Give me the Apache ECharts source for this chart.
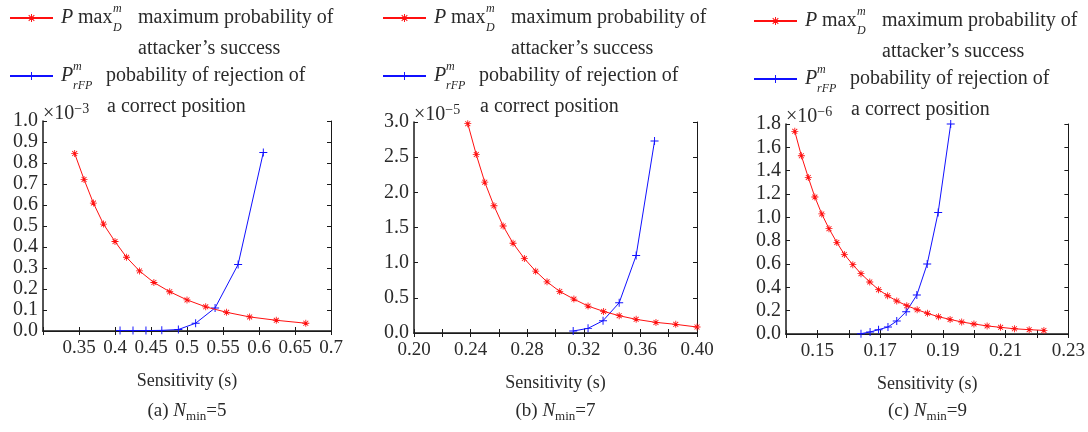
<!DOCTYPE html>
<html>
<head>
<meta charset="utf-8">
<script src="https://cdn.jsdelivr.net/npm/echarts@6/dist/echarts.min.js"></script>
<style>
  html, body { margin: 0; padding: 0; background: #fff; }
  #chart { width: 1088px; height: 432px; }
</style>
</head>
<body>
<div id="chart"></div>
<script>
// (a) Nmin=5, y in units of 1e-3
const aRedX = [0.344, 0.357, 0.370, 0.384, 0.400, 0.416, 0.434, 0.454, 0.476, 0.500, 0.526, 0.555, 0.587, 0.624, 0.665];
const aRedY = [0.845, 0.722, 0.609, 0.509, 0.426, 0.351, 0.286, 0.231, 0.187, 0.148, 0.115, 0.089, 0.067, 0.051, 0.037];
const aBlueX = [0.407, 0.425, 0.443, 0.465, 0.488, 0.512, 0.539, 0.571, 0.606];
const aBlueY = [0.002, 0.002, 0.002, 0.003, 0.007, 0.037, 0.110, 0.317, 0.850];

// (b) Nmin=7, y in units of 1e-5
const bRedX = [0.238, 0.244, 0.250, 0.2565, 0.263, 0.270, 0.278, 0.286, 0.294, 0.303, 0.313, 0.323, 0.334, 0.345, 0.357, 0.371, 0.385, 0.400];
const bRedY = [2.976, 2.537, 2.145, 1.809, 1.521, 1.276, 1.058, 0.879, 0.728, 0.591, 0.482, 0.383, 0.307, 0.246, 0.194, 0.151, 0.123, 0.085];
const bBlueX = [0.3125, 0.323, 0.3336, 0.345, 0.357, 0.370];
const bBlueY = [0.028, 0.066, 0.175, 0.430, 1.101, 2.731];

// (c) Nmin=9, y in units of 1e-6
const cRedX = [0.1428, 0.1449, 0.1471, 0.1492, 0.1514, 0.1537, 0.1562, 0.1586, 0.1613, 0.1639, 0.1667, 0.1695, 0.1724,
    0.1753, 0.1785, 0.1818, 0.1851, 0.1886, 0.1923, 0.1960, 0.1999, 0.2041, 0.2084, 0.2128, 0.2175, 0.2222];
const cRedY = [1.737, 1.528, 1.342, 1.174, 1.029, 0.903, 0.785, 0.682, 0.594, 0.517, 0.446, 0.380, 0.328,
    0.283, 0.243, 0.208, 0.177, 0.148, 0.125, 0.103, 0.086, 0.069, 0.057, 0.045, 0.037, 0.031];
const cBlueX = [0.1639, 0.1668, 0.1695, 0.1725, 0.1753, 0.1783, 0.1817, 0.1850, 0.1885, 0.1925];
const cBlueY = [0.003, 0.017, 0.037, 0.060, 0.111, 0.191, 0.334, 0.600, 1.042, 1.800];

const xMin = [0.30, 0.20, 0.14];
const xMax = [0.70, 0.40, 0.23];
const xStep = [0.05, 0.02, 0.01];
const yMax = [1.0, 3.0, 1.8];
const yStep = [0.1, 0.5, 0.2];
const yExp = ['−3', '−5', '−6'];
const captionTags = ['(a)', '(b)', '(c)'];
const captionN = ['5', '7', '9'];

const nameRed = 'Pmax';
const nameBlue = 'PrFP';

const serif = "'Liberation Serif', 'Times New Roman', serif";
const colorRed = '#ff1010';
const colorBlue = '#1010ff';
const colorAxis = '#1a1a1a';
const colorText = '#2a2a2a';

const plusPath = 'path://M4.4,0H5.6V4.4H10V5.6H5.6V10H4.4V5.6H0V4.4H4.4Z';
const starPath = plusPath + 'M1.924,1.076L8.924,8.076L8.076,8.924L1.076,1.924Z'
    + 'M1.076,8.076L8.076,1.076L8.924,1.924L1.924,8.924Z';

// plot boxes in pixels
const grids = [
    {left: 43, top: 121, width: 288, height: 210},
    {left: 414, top: 122, width: 283, height: 211},
    {left: 786, top: 124, width: 283, height: 210}
];
const legendPos = [[9, -28.5], [382, -28.5], [753, -25.5]];

function pairs(xs, ys) {
    return xs.map(function (x, i) { return [x, ys[i]]; });
}

function xLabel(i, v) {
    const h = Math.round(v * 100);
    if (i === 0) return Math.abs(v - 0.3) < 1e-6 ? '' : String(+v.toFixed(2));
    if (i === 1) return h % 4 === 0 ? v.toFixed(2) : '';
    return h % 2 === 1 ? v.toFixed(2) : '';
}

const legendRich = {
    it: {fontFamily: serif, fontSize: 20, fontStyle: 'italic', width: 12, lineHeight: 31, color: colorText},
    n2: {fontFamily: serif, fontSize: 20, width: 40, lineHeight: 31, color: colorText},
    n: {fontFamily: serif, fontSize: 20, lineHeight: 31, color: colorText},
    sup: {fontFamily: serif, fontSize: 12, fontStyle: 'italic', width: 0, lineHeight: 17, verticalAlign: 'top', color: colorText},
    subD: {fontFamily: serif, fontSize: 12, fontStyle: 'italic', width: 25, lineHeight: 17, verticalAlign: 'bottom', color: colorText},
    subR: {fontFamily: serif, fontSize: 12, fontStyle: 'italic', width: 33, lineHeight: 17, verticalAlign: 'bottom', color: colorText},
    ind1: {fontSize: 20, width: 77, lineHeight: 31},
    ind2: {fontSize: 20, width: 46, lineHeight: 31}
};

function legendText(name) {
    if (name === nameRed) {
        return '{it|P}{n2| max}{sup|m}{subD|D}{n|maximum probability of}\n{ind1| }{n|attacker’s success}';
    }
    return '{it|P}{sup|m}{subR|rFP}{n|pobability of rejection of}\n{ind2| }{n|a correct position}';
}

const xAxes = [];
const yAxes = [];
const series = [];
const legends = [];
const graphics = [];

for (let i = 0; i < 3; i++) {
    const g = grids[i];
    const cx = g.left + g.width / 2;

    xAxes.push({
        type: 'value', gridIndex: i, position: 'bottom',
        min: xMin[i], max: xMax[i], interval: xStep[i],
        name: 'Sensitivity (s)', nameLocation: 'middle', nameGap: 41,
        nameTextStyle: {fontFamily: serif, fontSize: 18, color: colorText},
        axisLine: {lineStyle: {color: colorAxis, width: 1.5}},
        axisTick: {inside: true, length: 4, lineStyle: {color: colorAxis}},
        axisLabel: {
            margin: 8, fontFamily: serif, fontSize: 19, color: colorText,
            formatter: (function (k) { return function (v) { return xLabel(k, v); }; })(i)
        },
        splitLine: {show: false}
    });
    yAxes.push({
        type: 'value', gridIndex: i, position: 'left',
        min: 0, max: yMax[i], interval: yStep[i],
        name: '×10{sup|' + yExp[i] + '}', nameLocation: 'end', nameGap: -5,
        nameTextStyle: {
            align: 'left', verticalAlign: 'bottom', fontFamily: serif, fontSize: 20, lineHeight: 24, color: colorText,
            rich: {sup: {fontFamily: serif, fontSize: 14, lineHeight: 14, verticalAlign: 'top', color: colorText}}
        },
        axisLine: {lineStyle: {color: colorAxis, width: 1.5}},
        axisTick: {inside: true, length: 4, lineStyle: {color: colorAxis}},
        axisLabel: {
            margin: 5, fontFamily: serif, fontSize: 20, color: colorText,
            formatter: function (v) { return v.toFixed(1); }
        },
        splitLine: {show: false}
    });

    series.push({
        name: nameRed, type: 'line', xAxisIndex: i, yAxisIndex: i,
        data: pairs([aRedX, bRedX, cRedX][i], [aRedY, bRedY, cRedY][i]),
        symbol: starPath, symbolSize: 7,
        lineStyle: {color: colorRed, width: 1},
        itemStyle: {color: colorRed},
        z: 3
    });
    series.push({
        name: nameBlue, type: 'line', xAxisIndex: i, yAxisIndex: i,
        data: pairs([aBlueX, bBlueX, cBlueX][i], [aBlueY, bBlueY, cBlueY][i]),
        symbol: plusPath, symbolSize: 8,
        lineStyle: {color: colorBlue, width: 1},
        itemStyle: {color: colorBlue},
        z: 2
    });

    legends.push({
        left: legendPos[i][0], top: legendPos[i][1],
        orient: 'vertical', padding: 0, itemGap: -35,
        itemWidth: 43, itemHeight: 10, selectedMode: false,
        data: [nameRed, nameBlue],
        formatter: legendText,
        textStyle: {
            fontFamily: serif, fontSize: 20, lineHeight: 31, color: colorText,
            padding: [31, 0, 0, 3], rich: legendRich
        }
    });

    graphics.push({
        type: 'text', x: cx, y: 411,
        style: {
            text: captionTags[i] + ' {it|N}{sub|min}=' + captionN[i],
            fontFamily: serif, fontSize: 19, fill: colorText, align: 'center', verticalAlign: 'middle',
            rich: {
                it: {fontFamily: serif, fontSize: 19, fontStyle: 'italic', lineHeight: 24, fill: colorText},
                sub: {fontFamily: serif, fontSize: 13, lineHeight: 14, verticalAlign: 'bottom', fill: colorText}
            }
        }
    });
}

// mirrored frame on top and right, ticks only
for (let i = 0; i < 3; i++) {
    xAxes.push({
        type: 'value', gridIndex: i, position: 'top',
        min: xMin[i], max: xMax[i], interval: xStep[i],
        axisLine: {lineStyle: {color: colorAxis, width: 1}},
        axisTick: {inside: true, length: 4, lineStyle: {color: colorAxis}},
        axisLabel: {show: false},
        splitLine: {show: false}
    });
    yAxes.push({
        type: 'value', gridIndex: i, position: 'right',
        min: 0, max: yMax[i], interval: yStep[i],
        axisLine: {lineStyle: {color: colorAxis, width: 1}},
        axisTick: {inside: true, length: 4, lineStyle: {color: colorAxis}},
        axisLabel: {show: false},
        splitLine: {show: false}
    });
}

const chart = echarts.init(document.getElementById('chart'));
chart.setOption({
    animation: false,
    backgroundColor: '#fff',
    grid: grids.map(function (g) { return Object.assign({containLabel: false}, g); }),
    xAxis: xAxes,
    yAxis: yAxes,
    legend: legends,
    series: series,
    graphic: graphics
});
</script>
</body>
</html>
